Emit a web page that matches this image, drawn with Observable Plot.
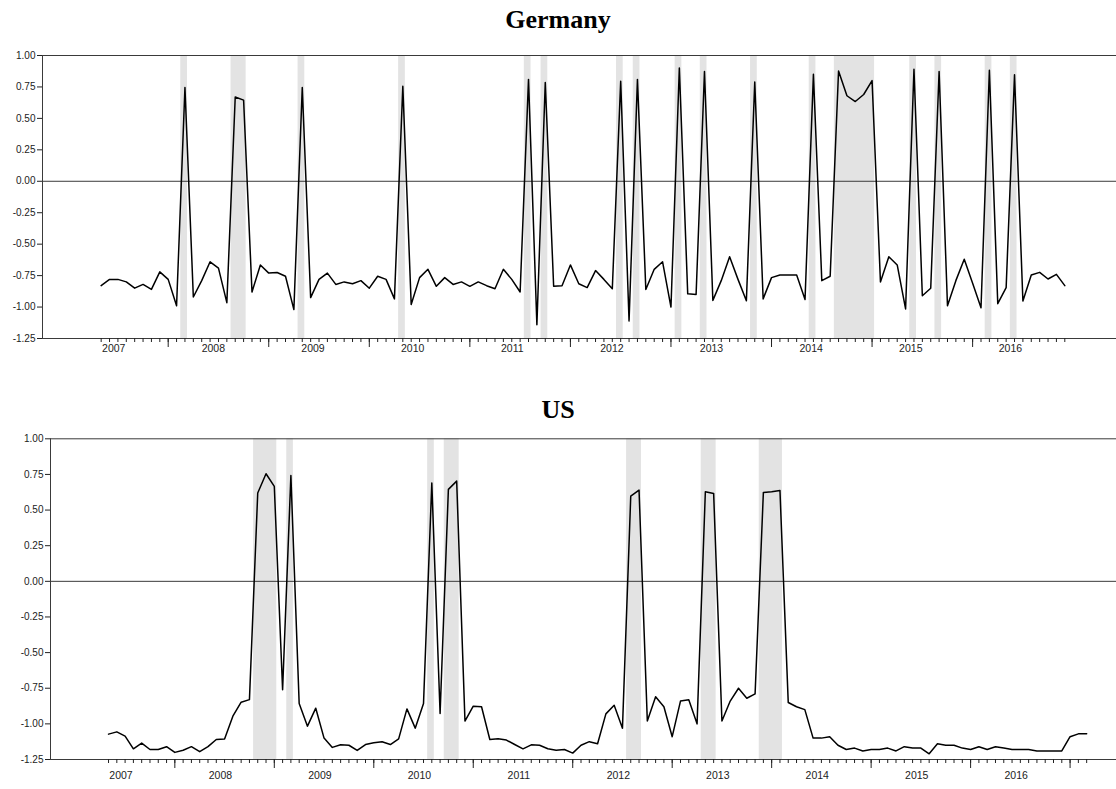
<!DOCTYPE html>
<html>
<head>
<meta charset="utf-8">
<script src="https://cdn.jsdelivr.net/npm/d3@7"></script>
<script src="https://cdn.jsdelivr.net/npm/@observablehq/plot@0.6"></script>
<style>
  body { margin: 0; background: #fff; }
  #wrap { position: relative; width: 1116px; height: 789px; overflow: hidden; background: #fff; }
  .title { position: absolute; left: 0; width: 1116px; text-align: center;
           font: bold 26px "Liberation Serif", "Times New Roman", serif; color: #000; }
  .panel { position: absolute; left: 0; }
</style>
</head>
<body>
<div id="wrap">
  <div class="title" id="t1" style="top:5px;">Germany</div>
  <div class="panel" id="p1" style="top:45px;"></div>
  <div class="title" id="t2" style="top:395px;">US</div>
  <div class="panel" id="p2" style="top:428px;"></div>
</div>
<script>
// Monthly series, first observation May 2007
const germanyStart = "2007-05";
const germany = [
  -0.83, -0.78, -0.78, -0.80, -0.85, -0.82, -0.86, -0.72,          // May–Dec 2007
  -0.78, -0.99, 0.745, -0.92, -0.79, -0.64, -0.69, -0.965, 0.67, 0.645, -0.88, -0.665, // 2008
  -0.73, -0.725, -0.755, -1.02, 0.745, -0.925, -0.78, -0.73, -0.82, -0.80, -0.815, -0.79, // 2009
  -0.85, -0.755, -0.78, -0.935, 0.755, -0.98, -0.766, -0.70, -0.835, -0.766, -0.82, -0.80, // 2010
  -0.835, -0.80, -0.83, -0.855, -0.70, -0.78, -0.88, 0.81, -1.14, 0.785, -0.835, -0.83, // 2011
  -0.665, -0.815, -0.845, -0.71, -0.78, -0.855, 0.795, -1.11, 0.81, -0.86, -0.70, -0.64, // 2012
  -1.00, 0.90, -0.895, -0.90, 0.873, -0.947, -0.79, -0.60, -0.78, -0.95, 0.79, -0.935, // 2013
  -0.766, -0.745, -0.745, -0.745, -0.94, 0.85, -0.79, -0.755, 0.877, 0.68, 0.634, 0.69, // 2014
  0.80, -0.80, -0.60, -0.665, -1.015, 0.89, -0.91, -0.85, 0.873, -0.99, -0.79, -0.62, // 2015
  -0.81, -1.005, 0.883, -0.973, -0.846, 0.846, -0.952, -0.745, -0.724, -0.777, -0.74, -0.83 // 2016
];

const usStart = "2007-05";
const us = [
  -1.072, -1.056, -1.086, -1.175, -1.135, -1.18, -1.18, -1.16,       // May–Dec 2007
  -1.20, -1.185, -1.16, -1.195, -1.16, -1.11, -1.107, -0.946, -0.848, -0.83, 0.62, 0.755, // 2008
  0.666, -0.76, 0.743, -0.857, -1.016, -0.89, -1.10, -1.165, -1.147, -1.15, -1.186, -1.145, // 2009
  -1.133, -1.126, -1.145, -1.105, -0.895, -1.03, -0.857, 0.69, -0.927, 0.645, 0.703, -0.98, // 2010
  -0.876, -0.88, -1.11, -1.105, -1.114, -1.145, -1.175, -1.147, -1.15, -1.175, -1.185, -1.18, // 2011
  -1.205, -1.15, -1.125, -1.14, -0.93, -0.87, -1.03, 0.598, 0.64, -0.98, -0.81, -0.88, // 2012
  -1.09, -0.84, -0.83, -1.00, 0.628, 0.617, -0.98, -0.84, -0.75, -0.82, -0.79, 0.624, // 2013
  0.628, 0.638, -0.85, -0.88, -0.90, -1.10, -1.10, -1.09, -1.15, -1.18, -1.17, -1.19, // 2014
  -1.18, -1.18, -1.17, -1.19, -1.16, -1.17, -1.17, -1.21, -1.14, -1.15, -1.15, -1.17, // 2015
  -1.18, -1.16, -1.18, -1.16, -1.17, -1.18, -1.18, -1.18, -1.19, -1.19, -1.19, -1.19, // 2016
  -1.09, -1.07, -1.07                                                   // Jan–Mar 2017
];

const years = [2007, 2008, 2009, 2010, 2011, 2012, 2013, 2014, 2015, 2016];
const yTicks = [1.00, 0.75, 0.50, 0.25, 0.00, -0.25, -0.50, -0.75, -1.00, -1.25];

// month index counted from January 2007
const monthIndex = s => { const [y, m] = s.split("-").map(Number); return (y - 2007) * 12 + (m - 1); };

function panel({values, start, marginLeft, xMax, height, marginTop, marginBottom, labelPad, labelStep}) {
  const t0 = monthIndex(start);
  const rows = values.map((v, k) => ({t: t0 + k, v}));
  // shaded spans: consecutive months with a positive value
  const runs = [];
  rows.forEach(d => {
    if (d.v > 0) {
      const prev = runs[runs.length - 1];
      if (prev && prev.end === d.t - 1) prev.end = d.t;
      else runs.push({start: d.t, end: d.t});
    }
  });
  runs.forEach(r => { r.x1 = r.start - 0.5; r.x2 = r.end + 0.3; });
  const minor = rows.map(d => d.t);
  const major = minor.filter(t => t % 12 === 0);
  // year labels sit near the middle of each year
  const mids = years.map((y, k) => 5.5 + k * labelStep);
  const yearOf = new Map(mids.map((m, k) => [m, String(years[k])]));
  const frame = "#3a3a3a";
  return Plot.plot({
    width: 1116, height, marginLeft, marginRight: 0, marginTop, marginBottom,
    x: {domain: [-3, xMax]},
    y: {domain: [-1.25, 1]},
    style: {fontFamily: "'Liberation Sans Narrow', 'Arial Narrow', 'Liberation Sans', Arial, sans-serif",
            fontSize: "10px", color: "#222", background: "white", overflow: "visible"},
    marks: [
      Plot.rect(runs, {x1: "x1", x2: "x2", y1: -1.25, y2: 1, fill: "#e3e3e3"}),
      Plot.ruleY([0], {stroke: frame, strokeWidth: 1}),
      Plot.ruleY([1], {stroke: frame, strokeWidth: 1}),
      Plot.ruleY([-1.25], {stroke: frame, strokeWidth: 1}),
      Plot.ruleX([-3], {stroke: frame, strokeWidth: 1}),
      Plot.axisY({ticks: yTicks, tickFormat: v => v.toFixed(2), tickSize: 5, tickPadding: 2, label: null}),
      Plot.axisX({ticks: minor, tickSize: 4, tickFormat: () => "", label: null}),
      Plot.axisX({ticks: major, tickSize: 9, tickFormat: () => "", label: null}),
      Plot.axisX({ticks: mids, tickSize: 0, tickPadding: labelPad, fontSize: 10.5,
                  fontFamily: "'Liberation Sans', Arial, sans-serif",
                  tickFormat: t => yearOf.get(t), label: null}),
      Plot.line(rows, {x: "t", y: "v", stroke: "black", strokeWidth: 1.5})
    ]
  });
}

document.getElementById("p1").append(panel({
  values: germany, start: germanyStart, marginLeft: 42, xMax: 125.17,
  height: 313, marginTop: 10, marginBottom: 20, labelPad: 6, labelStep: 11.89
}));
document.getElementById("p2").append(panel({
  values: us, start: usStart, marginLeft: 50, xMax: 125.6,
  height: 356, marginTop: 10.3, marginBottom: 25, labelPad: 12, labelStep: 12
}));
</script>
</body>
</html>
